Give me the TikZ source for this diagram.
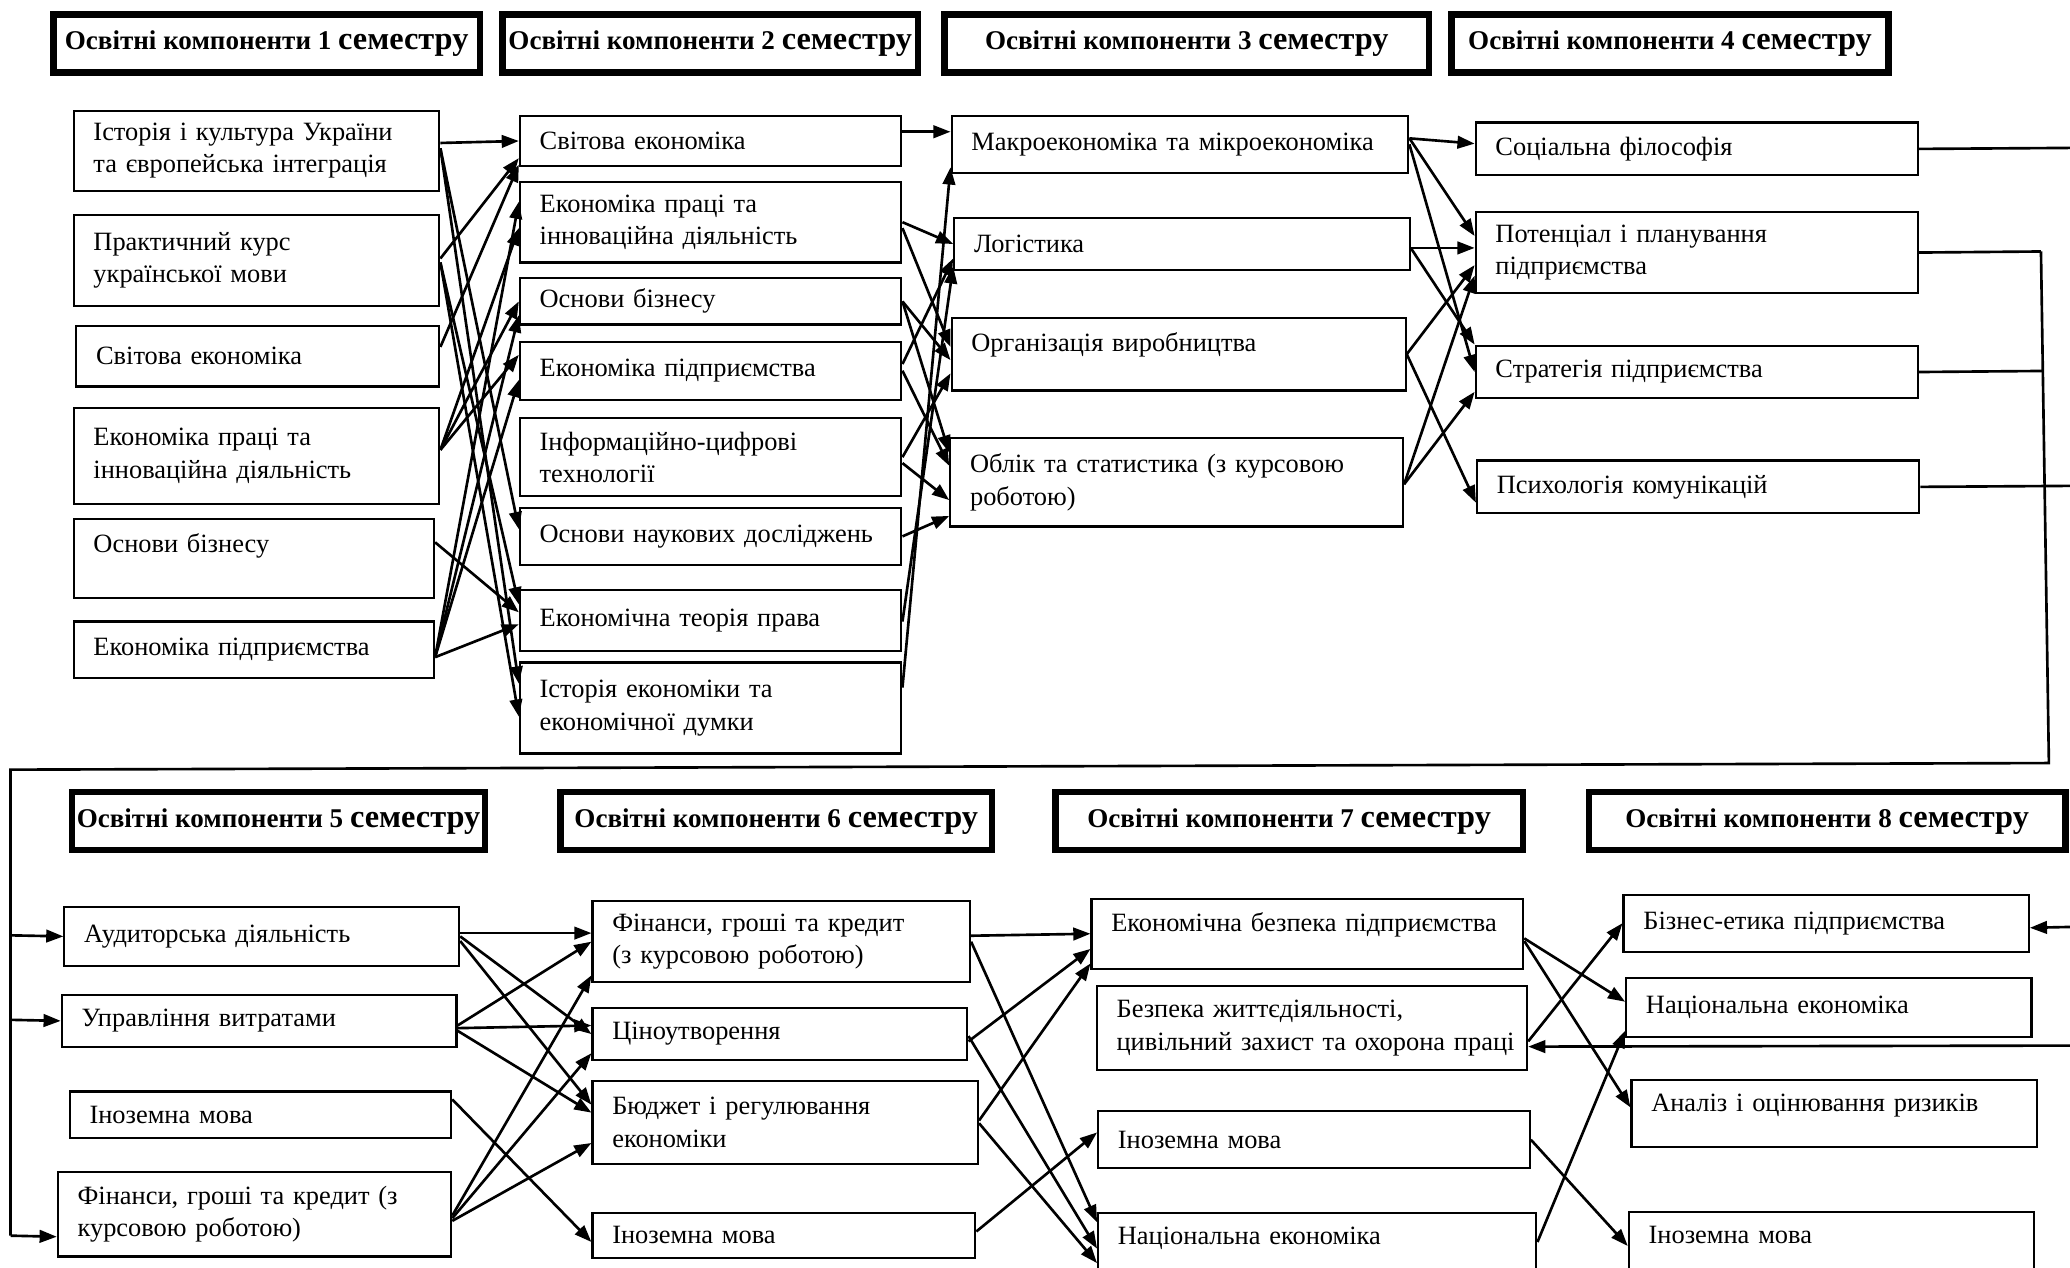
\documentclass[tikz,border=0pt]{standalone}
\usepackage{fontspec}
\setmainfont{Liberation Serif}
\usetikzlibrary{arrows.meta}

\begin{document}
\begin{tikzpicture}[
    x=1pt, y=-1pt,
    every node/.style={font=\fontsize{20}{24.5}\selectfont},
    semhead/.style={draw, line width=5pt, minimum height=44pt, inner sep=0pt,
                    font=\fontsize{20.5}{24}\selectfont\bfseries},
    comp/.style 2 args={draw, line width=1.6pt, anchor=north west, align=left,
                        text width=#1pt, minimum height=#2pt, inner xsep=15pt, inner ysep=2pt},
    raised/.style={text depth=#1pt},
    arrow/.style={-{Triangle[length=13pt, width=9.5pt]}, line width=2pt},
    link/.style={line width=2pt}
]
\useasboundingbox (0,0) rectangle (1568,960);
\newcommand{\semword}{{\fontsize{24.5}{27}\selectfont семестру}}

\node[semhead, minimum width=323pt] (h1) at (202,33) {Освітні компоненти 1 \semword};
\node[semhead, minimum width=315pt] (h2) at (538,33) {Освітні компоненти 2 \semword};
\node[semhead, minimum width=367pt] (h3) at (899,33) {Освітні компоненти 3 \semword};
\node[semhead, minimum width=331pt] (h4) at (1265,33) {Освітні компоненти 4 \semword};
\node[semhead, minimum width=313pt] (h5) at (211,622) {Освітні компоненти 5 \semword};
\node[semhead, minimum width=327pt] (h6) at (588,622) {Освітні компоненти 6 \semword};
\node[semhead, minimum width=354pt] (h7) at (976.5,622) {Освітні компоненти 7 \semword};
\node[semhead, minimum width=361pt] (h8) at (1384,622) {Освітні компоненти 8 \semword};

\node[comp={247}{61}] (s1a) at (55,83) {Історія і культура України\\та європейська інтеграція};
\node[comp={247}{69}] (s1b) at (55,162) {Практичний курс\\української мови};
\node[comp={245}{46}] (s1c) at (57,246) {Світова економіка};
\node[comp={247}{73}] (s1d) at (55,308) {Економіка праці та\\інноваційна діяльність};
\node[comp={243}{60}, raised=23] (s1e) at (55,392) {Основи бізнесу};
\node[comp={243}{43}] (s1f) at (55,470) {Економіка підприємства};

\node[comp={259}{38}] (s2a) at (393,87) {Світова економіка};
\node[comp={259}{61}] (s2b) at (393,137) {Економіка праці та\\інноваційна діяльність};
\node[comp={259}{35}] (s2c) at (393,210) {Основи бізнесу};
\node[comp={259}{44}] (s2d) at (393,258) {Економіка підприємства};
\node[comp={259}{59}] (s2e) at (393,316) {Інформаційно-цифрові\\технології};
\node[comp={259}{43}] (s2f) at (393,384) {Основи наукових досліджень};
\node[comp={259}{46}] (s2g) at (393,446) {Економічна теорія права};
\node[comp={259}{69}] (s2h) at (393,501) {Історія економіки та\\економічної думки};

\node[comp={316}{43}] (s3a) at (720,87) {\mbox{Макроекономіка та мікроекономіка}};
\node[comp={315}{40}] (s3b) at (722,164) {Логістика};
\node[comp={314}{55}, raised=18] (s3c) at (720,240) {Організація виробництва};
\node[comp={313}{67}] (s3d) at (719,331) {Облік та статистика (з курсовою\\роботою)};

\node[comp={305}{40}] (s4a) at (1117,92) {Соціальна філософія};
\node[comp={305}{61}] (s4b) at (1117,160) {Потенціал і планування\\підприємства};
\node[comp={305}{40}] (s4c) at (1117,261) {Стратегія підприємства};
\node[comp={305}{40}] (s4d) at (1118,348) {Психологія комунікацій};

\node[comp={269}{45}] (s5a) at (48,686) {Аудиторська діяльність};
\node[comp={269}{39}] (s5b) at (46,753) {Управління витратами};
\node[comp={259}{35}] (s5c) at (52,826) {Іноземна мова};
\node[comp={268}{64}] (s5d) at (43,887) {Фінанси, гроші та кредит (з\\курсовою роботою)};

\node[comp={256}{61}] (s6a) at (448,682) {Фінанси, гроші та кредит\\(з курсовою роботою)};
\node[comp={254}{39}] (s6b) at (448,763) {Ціноутворення};
\node[comp={262}{63}] (s6c) at (448,818) {Бюджет і регулювання\\економіки};
\node[comp={260}{34}] (s6d) at (448,918) {Іноземна мова};

\node[comp={297}{53}, raised=18] (s7a) at (826,680) {\mbox{Економічна безпека підприємства}};
\node[comp={296}{64}] (s7b) at (830,746) {Безпека життєдіяльності,\\\mbox{цивільний захист та охорона праці}};
\node[comp={297}{43}] (s7c) at (831,841) {Іноземна мова};
\node[comp={302}{50}, raised=15] (s7d) at (831,918) {Національна економіка};

\node[comp={277}{43}] (s8a) at (1229,677) {Бізнес-етика підприємства};
\node[comp={277}{45}] (s8b) at (1231,740) {Національна економіка};
\node[comp={277}{51}, raised=16] (s8c) at (1235,817) {Аналіз і оцінювання ризиків};
\node[comp={277}{50}, raised=15] (s8d) at (1233,917) {Іноземна мова};

\coordinate (e1) at (1575,112);
\coordinate (e4) at (1575,368);
\coordinate (j2) at (1546,190.5);
\coordinate (j3) at (1547.4,281);
\coordinate (rb) at (1552,578);
\coordinate (lt) at (8,583);
\coordinate (lb) at (8,936);
\coordinate (l1) at (8,708.5);
\coordinate (l2) at (8,772.5);
\coordinate (re1) at (1575,702);
\coordinate (re2) at (1575,792);

\draw[arrow] ([yshift=6pt]s1a.east) -- (s2a.west);
\draw[arrow] ([yshift=2pt]s1a.east) -- ([yshift=5.5pt]s2f.west);
\draw[arrow] ([yshift=2pt]s1a.east) -- ([yshift=18.5pt]s2h.west);
\draw[arrow] ([yshift=1.5pt]s1b.east) -- ([yshift=-13pt]s2a.west);
\draw[arrow] ([yshift=-1.5pt]s1b.east) -- ([yshift=12pt]s2g.west);
\draw[arrow] ([yshift=-1.5pt]s1b.east) -- ([yshift=-6.5pt]s2h.west);
\draw[arrow] ([yshift=7pt]s1c.east) -- ([yshift=-18pt]s2a.west);
\draw[arrow] ([yshift=4.5pt]s1d.east) -- ([yshift=-4.5pt]s2b.west);
\draw[arrow] ([yshift=4.5pt]s1d.east) -- (s2c.west);
\draw[arrow] ([yshift=4.5pt]s1d.east) -- ([yshift=12pt]s2d.west);
\draw[arrow] ([yshift=12pt]s1e.east) -- ([yshift=6pt]s2g.west);
\draw[arrow] ([yshift=-5.5pt]s1f.east) -- ([yshift=15.5pt]s2b.west);
\draw[arrow] ([yshift=-5.5pt]s1f.east) -- ([yshift=-10.5pt]s2c.west);
\draw[arrow] ([yshift=-5.5pt]s1f.east) -- ([yshift=-7pt]s2d.west);
\draw[arrow] ([yshift=-5.5pt]s1f.east) -- ([yshift=-3pt]s2g.west);

\draw[arrow] ([yshift=7pt]s2a.east) -- ([yshift=9.5pt]s3a.west);
\draw[arrow] ([yshift=15.5pt]s2h.east) -- ([yshift=-17.5pt]s3a.west);
\draw[arrow] (s2b.east) -- (s3b.west);
\draw[arrow] ([yshift=5pt]s2d.east) -- ([yshift=-11pt]s3b.west);
\draw[arrow] ([yshift=-1pt]s2g.east) -- ([yshift=-17pt]s3b.west);
\draw[arrow] ([yshift=-4.5pt]s2b.east) -- ([yshift=5.5pt]s3c.west);
\draw[arrow] (s2c.east) -- ([yshift=-4.5pt]s3c.west);
\draw[arrow] (s2e.east) -- ([yshift=-14.5pt]s3c.west);
\draw[arrow] (s2c.east) -- ([yshift=22.5pt]s3d.west);
\draw[arrow] (s2d.east) -- ([yshift=12.5pt]s3d.west);
\draw[arrow] ([yshift=-4.5pt]s2e.east) -- ([yshift=-13.5pt]s3d.west);
\draw[arrow] (s2f.east) -- ([yshift=-25.5pt]s3d.west);

\draw[arrow] ([yshift=4.5pt]s3a.east) -- ([yshift=4pt]s4a.west);
\draw[arrow] ([yshift=4.5pt]s3a.east) -- ([yshift=12.5pt]s4b.west);
\draw[arrow] (s3a.east) -- (s4c.west);
\draw[arrow] ([yshift=-3pt]s3b.east) -- ([yshift=3.5pt]s4b.west);
\draw[arrow] ([yshift=-3pt]s3b.east) -- (s4c.north west);
\draw[arrow] (s3c.east) -- ([yshift=-9.5pt]s4b.west);
\draw[arrow] (s3c.east) -- ([yshift=-12pt]s4d.west);
\draw[arrow] ([yshift=-1.5pt]s3d.east) -- ([yshift=-17.5pt]s4b.west);
\draw[arrow] ([yshift=-1.5pt]s3d.east) -- ([yshift=-15pt]s4c.west);

\draw[link] (s4a.east) -- (e1);
\draw[link] (s4d.east) -- (e4);
\draw[link] (s4b.east) -- (j2);
\draw[link] (s4c.east) -- (j3);
\draw[link] (j2) -- (rb) -- (lt) -- (lb);
\draw[arrow] (l1) -- (s5a.west);
\draw[arrow] (l2) -- (s5b.west);
\draw[arrow] (lb) -- ([yshift=-17pt]s5d.west);

\draw[arrow] ([yshift=2.5pt]s5a.east) -- ([yshift=6.5pt]s6a.west);
\draw[arrow] (s5a.east) -- (s6b.west);
\draw[arrow] ([yshift=-3.5pt]s5a.east) -- ([yshift=13.5pt]s6c.west);
\draw[arrow] ([yshift=-3.5pt]s5b.east) -- (s6a.west);
\draw[arrow] ([yshift=-5.5pt]s5b.east) -- ([yshift=6.5pt]s6b.west);
\draw[arrow] ([yshift=-7.5pt]s5b.east) -- ([yshift=7.5pt]s6c.west);
\draw[arrow] ([yshift=11.5pt]s5c.east) -- ([yshift=-5pt]s6d.west);
\draw[arrow] ([yshift=-1pt]s5d.east) -- ([yshift=-25.5pt]s6a.west);
\draw[arrow] ([yshift=-3pt]s5d.east) -- ([yshift=-14.5pt]s6b.west);
\draw[arrow] ([yshift=-5pt]s5d.east) -- ([yshift=-15.5pt]s6c.west);

\draw[arrow] ([yshift=4.5pt]s6a.east) -- (s7a.west);
\draw[arrow] (s6a.east) -- ([yshift=18pt]s7d.west);
\draw[arrow] ([yshift=-5.5pt]s6b.east) -- ([yshift=-11.5pt]s7a.west);
\draw[arrow] ([yshift=-1.5pt]s6b.east) -- ([yshift=-2pt]s7d.west);
\draw[arrow] ([yshift=1.5pt]s6c.east) -- ([yshift=-22.5pt]s7a.west);
\draw[arrow] ([yshift=-0.5pt]s6c.east) -- ([yshift=-13pt]s7d.west);
\draw[arrow] ([yshift=3pt]s6d.east) -- ([yshift=5.5pt]s7c.west);

\draw[arrow] ([yshift=-3.5pt]s7a.east) -- ([yshift=4.5pt]s8b.west);
\draw[arrow] ([yshift=-5.5pt]s7a.east) -- ([yshift=4.5pt]s8c.west);
\draw[arrow] ([yshift=-10pt]s7b.east) -- (s8a.west);
\draw[arrow] (s7c.east) -- ([yshift=-1pt]s8d.west);
\draw[arrow] ([yshift=3pt]s7d.east) -- ([yshift=-17.5pt]s8b.west);

\draw[arrow] (re1) -- ([yshift=-3.5pt]s8a.east);
\draw[arrow] (re2) -- ([yshift=-14pt]s7b.east);
\end{tikzpicture}
\end{document}
